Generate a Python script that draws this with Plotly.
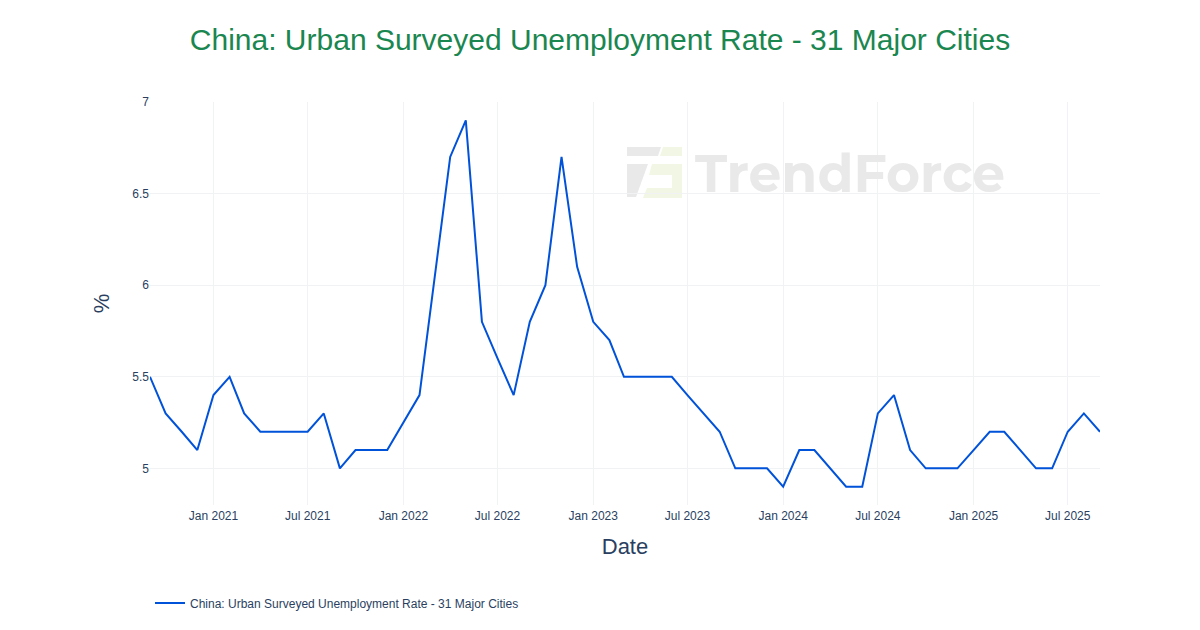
import plotly.graph_objects as go

dates = [
    "2020-09-01", "2020-10-01", "2020-11-01", "2020-12-01",
    "2021-01-01", "2021-02-01", "2021-03-01", "2021-04-01", "2021-05-01", "2021-06-01",
    "2021-07-01", "2021-08-01", "2021-09-01", "2021-10-01", "2021-11-01", "2021-12-01",
    "2022-02-01", "2022-04-01", "2022-05-01", "2022-06-01",
    "2022-07-01", "2022-08-01", "2022-09-01", "2022-10-01", "2022-11-01", "2022-12-01",
    "2023-01-01", "2023-02-01", "2023-03-01", "2023-04-01", "2023-05-01", "2023-06-01",
    "2023-07-01", "2023-08-01", "2023-09-01", "2023-10-01", "2023-11-01", "2023-12-01",
    "2024-01-01", "2024-02-01", "2024-03-01", "2024-04-01", "2024-05-01", "2024-06-01",
    "2024-07-01", "2024-08-01", "2024-09-01", "2024-10-01", "2024-11-01", "2024-12-01",
    "2025-01-01", "2025-02-01", "2025-03-01", "2025-04-01", "2025-05-01", "2025-06-01",
    "2025-07-01", "2025-08-01", "2025-09-01",
]
rates = [
    5.5, 5.3, 5.2, 5.1,
    5.4, 5.5, 5.3, 5.2, 5.2, 5.2,
    5.2, 5.3, 5.0, 5.1, 5.1, 5.1,
    5.4, 6.7, 6.9, 5.8,
    5.6, 5.4, 5.8, 6.0, 6.7, 6.1,
    5.8, 5.7, 5.5, 5.5, 5.5, 5.5,
    5.4, 5.3, 5.2, 5.0, 5.0, 5.0,
    4.9, 5.1, 5.1, 5.0, 4.9, 4.9,
    5.3, 5.4, 5.1, 5.0, 5.0, 5.0,
    5.1, 5.2, 5.2, 5.1, 5.0, 5.0,
    5.2, 5.3, 5.2,
]
series_name = "China: Urban Surveyed Unemployment Rate - 31 Major Cities"
title_text = "China: Urban Surveyed Unemployment Rate - 31 Major Cities"

FONT = "Liberation Sans, Arial, sans-serif"
TXT = "#2a3f5f"

# plot area in pixels: x 150..1100, y 102..505
L, R, T, B = 150, 1100, 102, 505


def px(x):
    return (x - L) / (R - L)


def py(y):
    return (B - y) / (B - T)


def path(points):
    return "M " + " L ".join(f"{px(x)},{py(y)}" for x, y in points) + " Z"


fig = go.Figure()
fig.add_trace(go.Scatter(
    x=dates, y=rates, mode="lines", name=series_name,
    line=dict(color="#0052d9", width=2),
))

shapes = [
    dict(type="path", xref="paper", yref="paper", layer="below", line=dict(width=0),
         fillcolor="#e9e9e9",
         path=path([(627, 147), (661, 147), (658, 156), (627, 156)])),
    dict(type="path", xref="paper", yref="paper", layer="below", line=dict(width=0),
         fillcolor="#e9e9e9",
         path=path([(627, 164), (648, 164), (636, 197), (627, 197)])),
    dict(type="path", xref="paper", yref="paper", layer="below", line=dict(width=0),
         fillcolor="#f1f7e4",
         path=path([(663, 147), (682, 147), (682, 156), (660, 156)])),
    dict(type="path", xref="paper", yref="paper", layer="below", line=dict(width=0),
         fillcolor="#f1f7e4",
         path=path([(652, 164), (682, 164), (682, 198), (643, 198), (647, 188), (672, 188),
                    (672, 175), (649, 175)])),
]

fig.update_layout(
    width=1200, height=630,
    paper_bgcolor="white", plot_bgcolor="white",
    margin=dict(l=L, r=1200 - R, t=T, b=630 - B),
    title=dict(text=title_text, x=0.5, xanchor="center", y=0.937, yanchor="middle",
               font=dict(family=FONT, size=30, color="#1a8650")),
    font=dict(family=FONT, color=TXT, size=12),
    showlegend=True,
    legend=dict(orientation="h", x=0.0, xanchor="left", y=-0.207, yanchor="top",
                font=dict(family=FONT, size=12, color=TXT)),
    shapes=shapes,
    annotations=[dict(text="<b>TrendForce</b>", xref="paper", yref="paper",
                      x=px(850), y=py(173), xanchor="center", yanchor="middle",
                      showarrow=False,
                      font=dict(family="Montserrat, Lato, DejaVu Sans, sans-serif", size=52,
                                color="#e9e9e9"))],
)
fig.update_xaxes(
    type="date", range=["2020-09-01", "2025-09-01"],
    showgrid=True, gridcolor="#f1f2f4", gridwidth=1,
    zeroline=False, showline=False, ticks="", ticklabelstandoff=2,
    dtick="M6", tick0="2021-01-01", tickformat="%b %Y",
    tickfont=dict(size=12, color=TXT),
    title=dict(text="Date", font=dict(size=22, color=TXT), standoff=16),
)
fig.update_yaxes(
    range=[4.8, 7.0],
    showgrid=True, gridcolor="#f1f2f4", gridwidth=1,
    zeroline=False, showline=False, ticks="",
    dtick=0.5, tickfont=dict(size=12, color=TXT),
    title=dict(text="%", font=dict(size=22, color=TXT), standoff=16),
)

fig.write_html("out.html")
